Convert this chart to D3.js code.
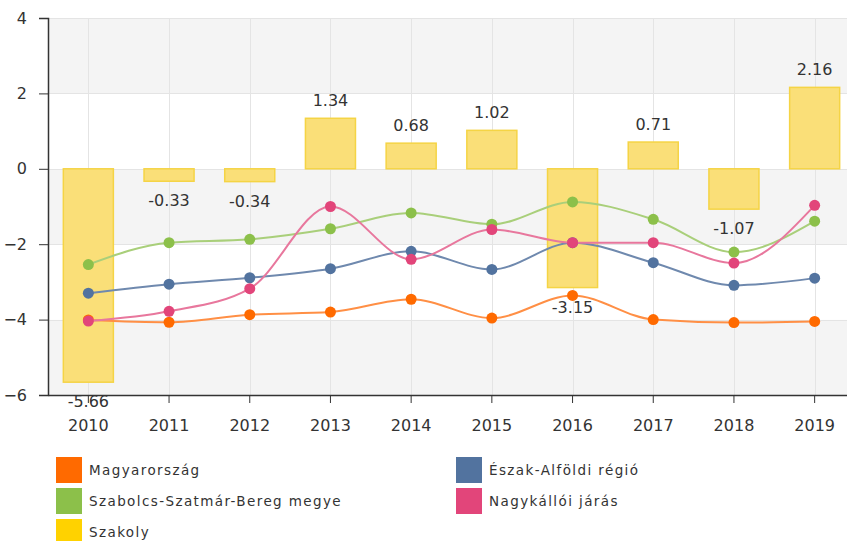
<!DOCTYPE html>
<html>
<head>
<meta charset="utf-8">
<script src="https://cdn.jsdelivr.net/npm/d3@7"></script>
<style>
  html, body { margin: 0; padding: 0; background: #fff; }
  svg { display: block; font-family: "DejaVu Sans", Verdana, sans-serif; }
</style>
</head>
<body>
<svg id="chart" width="847" height="541"></svg>
<script>
// Years on the category axis
const years = ["2010", "2011", "2012", "2013", "2014", "2015", "2016", "2017", "2018", "2019"];

// Szakoly (bars)
const szakoly = [-5.66, -0.33, -0.34, 1.34, 0.68, 1.02, -3.15, 0.71, -1.07, 2.16];

// Line series
const magyarorszag = [-4.01, -4.07, -3.87, -3.80, -3.46, -3.96, -3.36, -4.00, -4.08, -4.05];
const eszakAlfoldi = [-3.30, -3.06, -2.89, -2.65, -2.19, -2.67, -1.96, -2.49, -3.09, -2.90];
const szabolcs = [-2.54, -1.96, -1.87, -1.59, -1.17, -1.47, -0.88, -1.34, -2.21, -1.39];
const nagykalloi = [-4.04, -3.78, -3.18, -1.00, -2.40, -1.61, -1.96, -1.96, -2.50, -0.97];

const yTicks = [-6, -4, -2, 0, 2, 4];

const svg = d3.select("#chart");
const plotLeft = 48, plotRight = 855, plotTop = 18, plotBottom = 395;

const x = d3.scaleBand().domain(years).range([plotLeft, plotRight]).paddingInner(0.38).paddingOuter(0.19);
const y = d3.scaleLinear().domain([-6, 4]).range([plotBottom, plotTop]);
const cx = d => x(d) + x.bandwidth() / 2;

// Alternating horizontal bands
const bands = svg.append("g");
for (let i = 0; i < yTicks.length - 1; i++) {
  const lo = yTicks[i], hi = yTicks[i + 1];
  bands.append("rect")
    .attr("x", plotLeft).attr("width", plotRight - plotLeft)
    .attr("y", y(hi)).attr("height", y(lo) - y(hi))
    .attr("fill", (i % 2 === 0) ? "#f4f4f4" : "#ffffff");
}

// Grid lines
const grid = svg.append("g").attr("stroke", "#e4e4e4").attr("stroke-width", 1);
yTicks.forEach(t => {
  grid.append("line").attr("x1", plotLeft).attr("x2", plotRight)
    .attr("y1", Math.round(y(t)) + 0.5).attr("y2", Math.round(y(t)) + 0.5);
});
years.forEach(yr => {
  grid.append("line").attr("y1", plotTop).attr("y2", plotBottom)
    .attr("x1", Math.round(cx(yr)) + 0.5).attr("x2", Math.round(cx(yr)) + 0.5);
});

// Bars
svg.append("g").selectAll("rect")
  .data(szakoly)
  .join("rect")
  .attr("x", (d, i) => x(years[i]))
  .attr("width", x.bandwidth())
  .attr("y", d => y(Math.max(0, d)))
  .attr("height", d => Math.abs(y(d) - y(0)))
  .attr("fill", "#fadf78")
  .attr("stroke", "#f5d445")
  .attr("stroke-width", 1.5);

// Axes
const yAxis = d3.axisLeft(y).tickValues(yTicks).tickSize(9).tickPadding(12).tickFormat(d3.format("d"));
const yg = svg.append("g").attr("transform", `translate(${plotLeft},0)`).call(yAxis);
yg.select(".domain").attr("stroke", "#333").attr("stroke-width", 1.5);
yg.selectAll(".tick line").attr("stroke", "#333");
yg.selectAll("text").attr("font-size", 16).attr("fill", "#333").attr("font-family", "DejaVu Sans, sans-serif");

const xAxis = d3.axisBottom(x).tickSize(8).tickPadding(17).tickSizeOuter(0);
const xg = svg.append("g").attr("transform", `translate(0,${plotBottom})`).call(xAxis);
xg.select(".domain").attr("stroke", "#333").attr("stroke-width", 1.5);
xg.selectAll(".tick line").attr("stroke", "#333");
xg.selectAll("text").attr("font-size", 16).attr("fill", "#333").attr("font-family", "DejaVu Sans, sans-serif");

// Lines with markers
const series = [
  { name: "Magyarország", values: magyarorszag, line: "#ff8f45", dot: "#ff6a00" },
  { name: "Észak-Alföldi régió", values: eszakAlfoldi, line: "#6f89ae", dot: "#52739f" },
  { name: "Szabolcs-Szatmár-Bereg megye", values: szabolcs, line: "#a9cf7a", dot: "#8cc04a" },
  { name: "Nagykállói járás", values: nagykalloi, line: "#e8779d", dot: "#e2457a" }
];
const lineGen = d3.line()
  .x((d, i) => cx(years[i]))
  .y(d => y(d))
  .curve(d3.curveMonotoneX);

series.forEach(s => {
  const g = svg.append("g");
  g.append("path").attr("d", lineGen(s.values))
    .attr("fill", "none").attr("stroke", s.line).attr("stroke-width", 2);
  g.selectAll("circle").data(s.values).join("circle")
    .attr("cx", (d, i) => cx(years[i]))
    .attr("cy", d => y(d))
    .attr("r", 5.5)
    .attr("fill", s.dot);
});

// Bar value labels
svg.append("g").selectAll("text")
  .data(szakoly)
  .join("text")
  .attr("x", (d, i) => cx(years[i]))
  .attr("y", d => d >= 0 ? y(d) - 12 : y(d) + 25)
  .attr("text-anchor", "middle")
  .attr("font-size", 16)
  .attr("fill", "#333")
  .text(d => d.toFixed(2));

// Legend
const legendItems = [
  { name: "Magyarország", color: "#ff6a00", col: 0, row: 0 },
  { name: "Észak-Alföldi régió", color: "#52739f", col: 1, row: 0 },
  { name: "Szabolcs-Szatmár-Bereg megye", color: "#8cc04a", col: 0, row: 1 },
  { name: "Nagykállói járás", color: "#e2457a", col: 1, row: 1 },
  { name: "Szakoly", color: "#ffd200", col: 0, row: 2 }
];
const legend = svg.append("g");
legendItems.forEach(it => {
  const lx = it.col === 0 ? 56 : 456;
  const ly = 457 + it.row * 31;
  legend.append("rect").attr("x", lx).attr("y", ly).attr("width", 26).attr("height", 26).attr("fill", it.color);
  legend.append("text").attr("x", lx + 33).attr("y", ly + 18)
    .attr("font-size", 13.5).attr("letter-spacing", 1.4).attr("fill", "#333")
    .text(it.name);
});
</script>
</body>
</html>
